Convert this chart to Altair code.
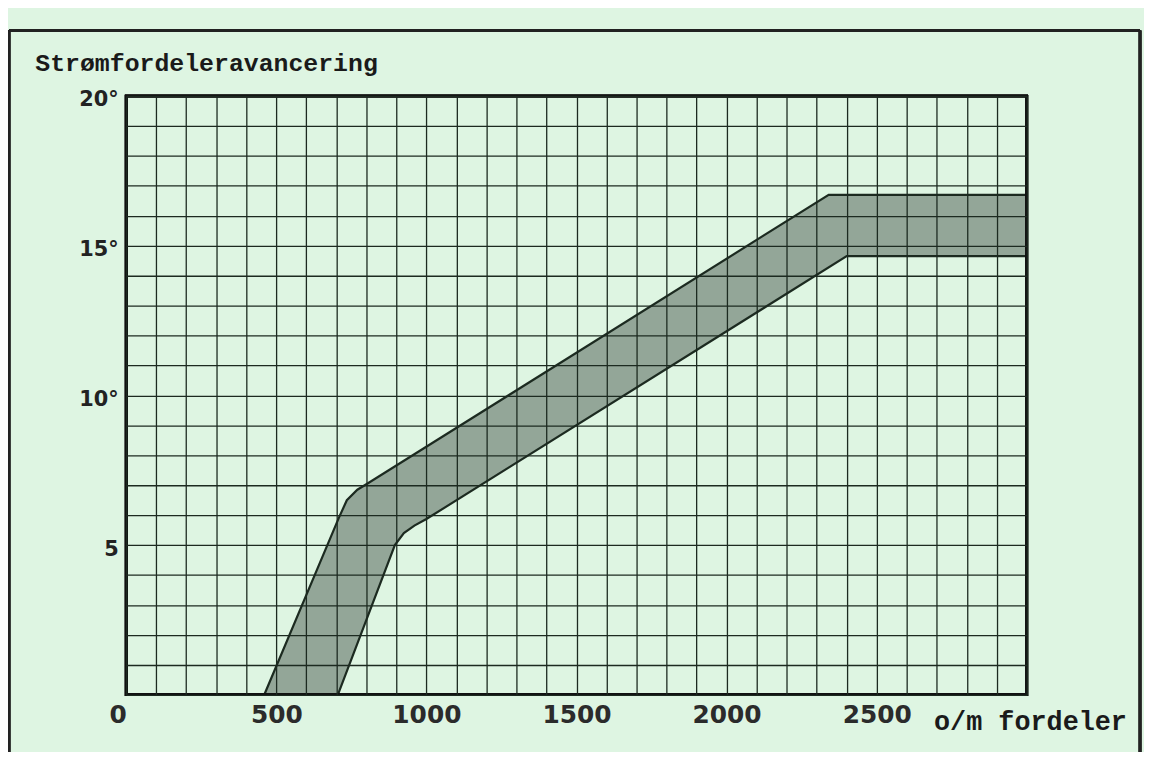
import altair as alt
import pandas as pd

# Upper (early) limit of the advance band
upper_rpm = [460, 708, 735, 770, 800, 2340, 3000]
upper_deg = [0.0, 5.9, 6.5, 6.85, 7.03, 16.7, 16.7]

# Lower (late) limit of the advance band
lower_rpm = [705, 895, 925, 960, 1000, 2400, 3000]
lower_deg = [0.0, 5.0, 5.4, 5.65, 5.87, 14.65, 14.65]

x_grid = list(range(0, 3001, 100))
y_grid = list(range(0, 21, 1))

BG = "#def5e2"
BAND = "#93a698"
INK = "#1c2a20"

upper = pd.DataFrame({"rpm": upper_rpm, "deg": upper_deg})
lower = pd.DataFrame({"rpm": lower_rpm, "deg": lower_deg})

xscale = alt.Scale(domain=[0, 3000], nice=False, zero=False)
yscale = alt.Scale(domain=[0, 20], nice=False)

xaxis = alt.Axis(
    values=x_grid,
    tickCount=100,
    labelExpr="datum.value % 500 == 0 && datum.value < 3000 ? format(datum.value, 'd') : ''",
    labelAlign={"condition": {"test": "datum.value == 0", "value": "right"}, "value": "center"},
    labelOverlap=False,
    labelBound=False,
    labelFlush=False,
    labelFont="DejaVu Sans",
    labelFontWeight="bold",
    labelFontSize=25,
    labelColor="#2b2b2b",
    labelPadding=8,
    labelBaseline="top",
    ticks=False,
    domain=False,
    grid=True,
    gridColor=INK,
    gridWidth=1.3,
    gridOpacity=1,
    zindex=1,
    title="o/m fordeler",
    titleFont="Liberation Mono",
    titleFontWeight="bold",
    titleFontSize=27,
    titleColor="#1a1a1a",
    titleAlign="left",
    titleBaseline="alphabetic",
    titleAngle=0,
    titleX=813,
    titleY=35,
)

yaxis = alt.Axis(
    values=y_grid,
    tickCount=100,
    labelExpr="datum.value == 5 ? '5' : (datum.value % 5 == 0 && datum.value > 0 ? datum.value + '°' : '')",
    labelOverlap=False,
    labelBound=False,
    labelFlush=False,
    labelFont="DejaVu Sans",
    labelFontWeight="bold",
    labelFontSize=21,
    labelColor="#222222",
    labelPadding=8,
    labelOffset=4,
    ticks=False,
    domain=False,
    grid=True,
    gridColor=INK,
    gridWidth=1.3,
    gridOpacity=1,
    zindex=1,
    title="Strømfordeleravancering",
    titleFont="Liberation Mono",
    titleFontWeight="bold",
    titleFontSize=25,
    titleColor="#1a1a1a",
    titleAngle=0,
    titleAlign="left",
    titleBaseline="alphabetic",
    titleX=-92,
    titleY=-26,
)

X = alt.X("rpm:Q", scale=xscale, axis=xaxis)
Y = alt.Y("deg:Q", scale=yscale, axis=yaxis)

band_top = alt.Chart(upper).mark_area(color=BAND, opacity=1).encode(x=X, y=Y)
band_mask = alt.Chart(lower).mark_area(color=BG, opacity=1).encode(x=X, y=Y)
line_top = alt.Chart(upper).mark_line(color=INK, strokeWidth=2.2).encode(x=X, y=Y)
line_low = alt.Chart(lower).mark_line(color=INK, strokeWidth=2.2).encode(x=X, y=Y)

plot_frame = alt.Chart(upper).mark_rect(
    fill=None, fillOpacity=0, stroke="#111111", strokeWidth=2.6
).encode(
    x=alt.value(0), x2=alt.value(907), y=alt.value(0), y2=alt.value(603)
)

outer_left = alt.Chart(upper).mark_rule(color="#222222", strokeWidth=2.5).encode(
    x=alt.value(-118), y=alt.value(-66), y2=alt.value(700)
)
outer_top = alt.Chart(upper).mark_rule(color="#222222", strokeWidth=2.5).encode(
    x=alt.value(-118), x2=alt.value(1021), y=alt.value(-66)
)
outer_right = alt.Chart(upper).mark_rule(color="#222222", strokeWidth=2.5).encode(
    x=alt.value(1021), y=alt.value(-66), y2=alt.value(700)
)

chart = alt.layer(
    band_top, band_mask, line_top, line_low, plot_frame, outer_left, outer_top, outer_right
).properties(
    width=907,
    height=603,
    padding={"left": 119, "top": 86, "right": 118, "bottom": 55},
    autosize="none",
    background=BG,
).configure_view(stroke=None)

chart.save("out.html", embed_options={"renderer": "svg", "actions": False})
